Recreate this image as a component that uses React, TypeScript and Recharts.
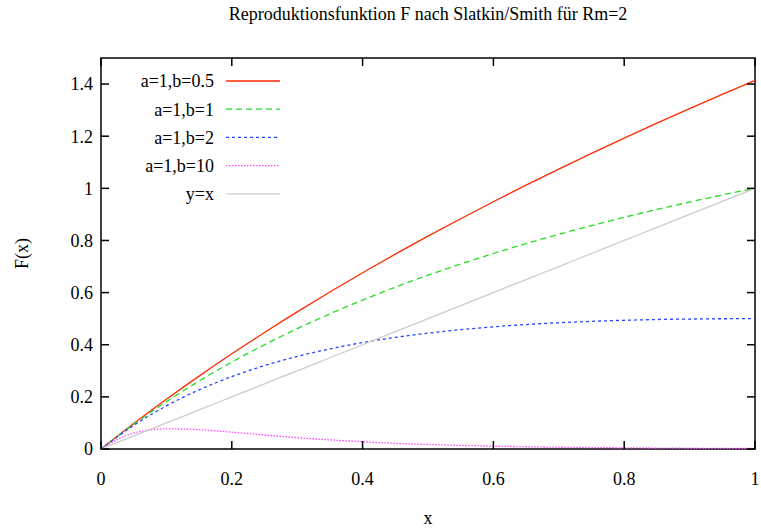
import React from 'react';
import { LineChart, Line, XAxis, YAxis, ReferenceArea, Legend, Label } from 'recharts';

const X_VALUES = [0, 0.05, 0.1, 0.15, 0.2, 0.25, 0.3, 0.35, 0.4, 0.45, 0.5, 0.55, 0.6, 0.65, 0.7, 0.75, 0.8, 0.85, 0.9, 0.95, 1];
const F_B05 = [0, 0.0976, 0.1907, 0.2797, 0.3651, 0.4472, 0.5262, 0.6025, 0.6761, 0.7474, 0.8165, 0.8835, 0.9487, 1.0121, 1.0738, 1.1339, 1.1926, 1.2499, 1.3059, 1.3606, 1.4142];
const F_B1 = [0, 0.0952, 0.1818, 0.2609, 0.3333, 0.4, 0.4615, 0.5185, 0.5714, 0.6207, 0.6667, 0.7097, 0.75, 0.7879, 0.8235, 0.8571, 0.8889, 0.9189, 0.9474, 0.9744, 1];
const F_B2 = [0, 0.0907, 0.1653, 0.2268, 0.2778, 0.32, 0.355, 0.3841, 0.4082, 0.4281, 0.4444, 0.4579, 0.4688, 0.4775, 0.4844, 0.4898, 0.4938, 0.4967, 0.4986, 0.4997, 0.5];
const F_B10 = [0, 0.0614, 0.0771, 0.0742, 0.0646, 0.0537, 0.0435, 0.0348, 0.0277, 0.0219, 0.0173, 0.0138, 0.0109, 0.0087, 0.0069, 0.0056, 0.0045, 0.0036, 0.0029, 0.0024, 0.002];
const Y_EQ_X = [0, 0.05, 0.1, 0.15, 0.2, 0.25, 0.3, 0.35, 0.4, 0.45, 0.5, 0.55, 0.6, 0.65, 0.7, 0.75, 0.8, 0.85, 0.9, 0.95, 1];

const X_TICKS = [0, 0.2, 0.4, 0.6, 0.8, 1];
const Y_TICKS = [0, 0.2, 0.4, 0.6, 0.8, 1, 1.2, 1.4];

const SERIES = [
  { key: 'b05', name: 'a=1,b=0.5', color: '#ff2a00', dash: undefined },
  { key: 'b1', name: 'a=1,b=1', color: '#22dd22', dash: '6 4' },
  { key: 'b2', name: 'a=1,b=2', color: '#2244ff', dash: '3 3' },
  { key: 'b10', name: 'a=1,b=10', color: '#ff44ff', dash: '1.5 1.5' },
  { key: 'yx', name: 'y=x', color: '#cccccc', dash: undefined },
];

const data = X_VALUES.map((x, i) => ({
  x,
  b05: F_B05[i],
  b1: F_B1[i],
  b2: F_B2[i],
  b10: F_B10[i],
  yx: Y_EQ_X[i],
}));

const W = 761;
const H = 531;
const PLOT = { top: 58, right: 755, bottom: 449, left: 101 };
const X_AXIS_H = 70;
const Y_AXIS_W = 80;
const M = { top: PLOT.top, right: W - PLOT.right, bottom: H - PLOT.bottom - X_AXIS_H, left: PLOT.left - Y_AXIS_W };
const TICK = 8;
const FONT = 'Times New Roman, Liberation Serif, Times, serif';

const XTick = (props: any) => {
  const { x, y, payload } = props;
  return (
    <g>
      <line x1={x} y1={PLOT.bottom} x2={x} y2={PLOT.bottom - TICK} stroke="#000" strokeWidth={1.5} />
      <line x1={x} y1={PLOT.top} x2={x} y2={PLOT.top + TICK} stroke="#000" strokeWidth={1.5} />
      <text x={x} y={y} dy="0.71em" textAnchor="middle" fontSize={18} fontFamily={FONT} fill="#000">
        {String(payload.value)}
      </text>
    </g>
  );
};

const YTick = (props: any) => {
  const { x, y, payload } = props;
  return (
    <g>
      <line x1={PLOT.left} y1={y} x2={PLOT.left + TICK} y2={y} stroke="#000" strokeWidth={1.5} />
      <line x1={PLOT.right} y1={y} x2={PLOT.right - TICK} y2={y} stroke="#000" strokeWidth={1.5} />
      <text x={x} y={y} dy="0.355em" textAnchor="end" fontSize={18} fontFamily={FONT} fill="#000">
        {String(payload.value)}
      </text>
    </g>
  );
};

const renderYLabel = () => {
  const cx = 22;
  const cy = (PLOT.top + PLOT.bottom) / 2;
  return (
    <text x={cx} y={cy} dy="0.355em" textAnchor="middle" fontSize={18} fontFamily={FONT} fill="#000" transform={`rotate(-90 ${cx} ${cy})`}>
      F(x)
    </text>
  );
};

const renderXLabel = () => (
  <text x={(PLOT.left + PLOT.right) / 2} y={524} textAnchor="middle" fontSize={18} fontFamily={FONT} fill="#000">
    x
  </text>
);

const renderLegend = () => (
  <svg width={200} height={150}>
    {SERIES.map((s, i) => {
      const cy = 14 + i * 28.2;
      return (
        <g key={s.key}>
          <text x={114} y={cy} dy="0.355em" textAnchor="end" fontSize={18} fontFamily={FONT} fill="#000">
            {s.name}
          </text>
          <line x1={126} y1={cy} x2={180} y2={cy} stroke={s.color} strokeWidth={1.3} strokeDasharray={s.dash} />
        </g>
      );
    })}
  </svg>
);

export default function App() {
  return (
    <div style={{ position: 'absolute', left: 0, top: 0, width: W, height: H, background: '#fff' }}>
      <div
        style={{
          position: 'absolute',
          left: PLOT.left,
          width: PLOT.right - PLOT.left,
          top: 4,
          textAlign: 'center',
          fontFamily: FONT,
          fontSize: 18,
          lineHeight: '20px',
        }}
      >
        Reproduktionsfunktion F nach Slatkin/Smith für Rm=2
      </div>
      <LineChart width={W} height={H} data={data} margin={M}>
        <XAxis
          dataKey="x"
          type="number"
          domain={[0, 1]}
          ticks={X_TICKS}
          tickSize={0}
          tickMargin={23}
          axisLine={false}
          tickLine={false}
          height={X_AXIS_H}
          tick={XTick}
          interval={0}
        >
          <Label content={renderXLabel} />
        </XAxis>
        <YAxis
          type="number"
          domain={[0, 1.5]}
          ticks={Y_TICKS}
          tickSize={0}
          tickMargin={8}
          axisLine={false}
          tickLine={false}
          width={Y_AXIS_W}
          tick={YTick}
          interval={0}
        >
          <Label content={renderYLabel} />
        </YAxis>
        <ReferenceArea x1={0} x2={1} y1={0} y2={1.5} fill="none" stroke="#000" strokeWidth={1.5} fillOpacity={0} strokeOpacity={1} />
        <Legend
          layout="vertical"
          align="center"
          verticalAlign="middle"
          content={renderLegend}
          wrapperStyle={{ left: 100, top: 67, width: 200, height: 150 }}
        />
        {SERIES.map((s) => (
          <Line
            key={s.key}
            dataKey={s.key}
            name={s.name}
            type="monotone"
            stroke={s.color}
            strokeWidth={1.3}
            strokeDasharray={s.dash}
            dot={false}
            activeDot={false}
            isAnimationActive={false}
          />
        ))}
      </LineChart>
    </div>
  );
}
